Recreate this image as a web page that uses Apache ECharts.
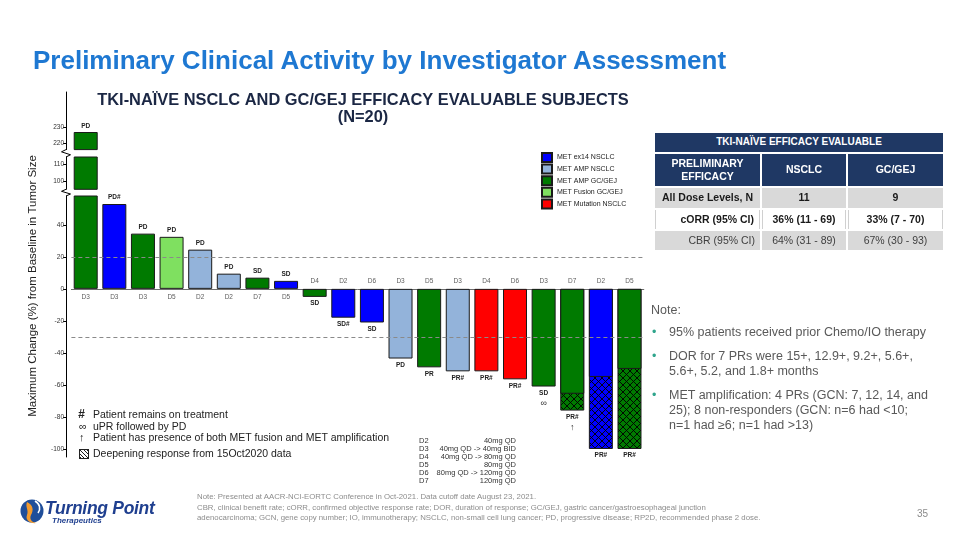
<!DOCTYPE html>
<html>
<head>
<meta charset="utf-8">
<script src="https://cdn.jsdelivr.net/npm/echarts@6.0.0/dist/echarts.min.js"></script>
<style>
html,body{margin:0;padding:0;background:#fff;}
body{width:960px;height:540px;position:relative;overflow:hidden;font-family:'Liberation Sans',Arial,Helvetica,sans-serif;}
#chart{position:absolute;left:0;top:0;width:960px;height:540px;}
.abs{position:absolute;white-space:nowrap;}
.cell{position:absolute;box-sizing:border-box;display:flex;align-items:center;justify-content:center;text-align:center;line-height:1.25;}
</style>
</head>
<body>
<div id="chart"></div>
<div id="overlay"></div>
<script>
// ---------------- data ----------------
const doseLevels = ['D3','D3','D3','D5','D2','D2','D7','D5','D4','D2','D6','D3','D5','D3','D4','D6','D3','D7','D2','D5'];
const tumorTypes = ['MET AMP GC/GEJ','MET ex14 NSCLC','MET AMP GC/GEJ','MET Fusion GC/GEJ','MET AMP NSCLC',
  'MET AMP NSCLC','MET AMP GC/GEJ','MET ex14 NSCLC','MET AMP GC/GEJ','MET ex14 NSCLC',
  'MET ex14 NSCLC','MET AMP NSCLC','MET AMP GC/GEJ','MET AMP NSCLC','MET Mutation NSCLC',
  'MET Mutation NSCLC','MET AMP GC/GEJ','MET AMP GC/GEJ','MET ex14 NSCLC','MET AMP GC/GEJ'];
const maxChange = [227, 53, 34.5, 32.5, 24.5, 9.5, 7, 5, -5, -18, -21, -43.5, -49, -51.5, -51.5, -56.5, -61, -76, -100, -100];
const maxChangeOct2020 = [null,null,null,null,null,null,null,null,null,null,null,null,null,null,null,null,null,-65.5,-55,-50];
const responses = ['PD','PD#','PD','PD','PD','PD','SD','SD','SD','SD#','SD','PD','PR','PR#','PR#','PR#','SD','PR#','PR#','PR#'];
const footMarks = ['','','','','','','','','','','','','','','','','∞','↑','',''];
const legendOrder = ['MET ex14 NSCLC','MET AMP NSCLC','MET AMP GC/GEJ','MET Fusion GC/GEJ','MET Mutation NSCLC'];
const yTicksUpper = [220, 230];
const yTicksMiddle = [100, 110];
const yTicksLower = [-100, -80, -60, -40, -20, 0, 20, 40];
const refLines = [20, -30];

const doseNames = ['D2','D3','D4','D5','D6','D7'];
const doseRegimens = ['40mg QD','40mg QD -> 40mg BID','40mg QD -> 80mg QD','80mg QD','80mg QD -> 120mg QD','120mg QD'];

const footLegend = [
  ['#', 'Patient remains on treatment'],
  ['∞', 'uPR followed by PD'],
  ['↑', 'Patient has presence of both MET fusion and MET amplification'],
  ['', 'Deepening response from 15Oct2020 data']
];

const tableTitle = 'TKI-NAÏVE EFFICACY EVALUABLE';
const tableHeader = ['PRELIMINARY<br>EFFICACY', 'NSCLC', 'GC/GEJ'];
const tableRows = [
  ['All Dose Levels, N', '11', '9'],
  ['cORR (95% CI)', '36% (11 - 69)', '33% (7 - 70)'],
  ['CBR (95% CI)', '64% (31 - 89)', '67% (30 - 93)']
];
const notes = [
  ['95% patients received prior Chemo/IO therapy'],
  ['DOR for 7 PRs were 15+, 12.9+, 9.2+, 5.6+,', '5.6+, 5.2, and 1.8+ months'],
  ['MET amplification: 4 PRs (GCN: 7, 12, 14, and', '25); 8 non-responders (GCN: n=6 had <10;', 'n=1 had ≥6; n=1 had >13)']
];
const footer = [
  'Note: Presented at AACR-NCI-EORTC Conference in Oct-2021. Data cutoff date August 23, 2021.',
  'CBR, clinical benefit rate; cORR, confirmed objective response rate; DOR, duration of response; GC/GEJ, gastric cancer/gastroesophageal junction',
  'adenocarcinoma; GCN, gene copy number; IO, immunotherapy; NSCLC, non-small cell lung cancer; PD, progressive disease; RP2D, recommended phase 2 dose.'
];

// ---------------- style ----------------
const FONT = "'Liberation Sans', Arial, sans-serif";
const typeColors = {
  'MET ex14 NSCLC': '#0000FF',
  'MET AMP NSCLC': '#93B3DA',
  'MET AMP GC/GEJ': '#007A00',
  'MET Fusion GC/GEJ': '#7FE060',
  'MET Mutation NSCLC': '#FF0000'
};
const BORDER = '#1a1a1a';
const GL = 71.4, GW = 572.4;
const axisRanges = [[216, 252], [95, 114], [-105, 58]];
const gridTops = [[92, 57.6], [157, 32.3], [196, 261]];

function hatch(color) {
  const s = 7;
  const c = document.createElement('canvas');
  c.width = s; c.height = s;
  const ctx = c.getContext('2d');
  ctx.fillStyle = color; ctx.fillRect(0, 0, s, s);
  ctx.strokeStyle = 'rgba(0,0,0,0.9)'; ctx.lineWidth = 1;
  ctx.beginPath();
  ctx.moveTo(-1, -1); ctx.lineTo(s + 1, s + 1);
  ctx.moveTo(s + 1, -1); ctx.lineTo(-1, s + 1);
  ctx.stroke();
  return { image: c, repeat: 'repeat' };
}

const chart = echarts.init(document.getElementById('chart'));

const grids = gridTops.map(g => ({ left: GL, width: GW, top: g[0], height: g[1] }));
const xAxes = [0, 1, 2].map(g => ({
  type: 'category', gridIndex: g, data: doseLevels, show: g === 2,
  axisLine: { onZero: true, lineStyle: { color: '#6e6e6e', width: 1 } },
  axisTick: { show: false }, axisLabel: { show: false }, splitLine: { show: false }
}));
const tickSets = [yTicksUpper, yTicksMiddle, yTicksLower];
const yAxes = [0, 1, 2].map(g => ({
  type: 'value', gridIndex: g, min: axisRanges[g][0], max: axisRanges[g][1], offset: 5.4,
  axisLine: { show: true, lineStyle: { color: '#000', width: 1 } },
  axisTick: { show: true, length: 3, customValues: tickSets[g], lineStyle: { color: '#000' } },
  axisLabel: { customValues: tickSets[g], fontSize: 6.5, color: '#333', margin: 2, fontFamily: FONT },
  splitLine: { show: false }
}));

const labelRich = { m: { fontSize: 9, lineHeight: 12, color: '#333', fontWeight: 'normal' } };
function respLabel(i) {
  return responses[i] + (footMarks[i] ? '\n{m|' + footMarks[i] + '}' : '');
}

const series = [];
// upper two broken segments
[0, 1].forEach(g => {
  series.push({
    type: 'bar', name: 'segment' + g, xAxisIndex: g, yAxisIndex: g, barWidth: 24,
    itemStyle: { borderColor: BORDER, borderWidth: 1 },
    data: maxChange.map((v, i) => ({
      value: v,
      itemStyle: { color: typeColors[tumorTypes[i]] },
      label: { show: g === 0 && v >= axisRanges[0][0] && v <= axisRanges[0][1] }
    })),
    label: { position: 'top', distance: 2, fontSize: 6.5, fontWeight: 'bold', color: '#222', fontFamily: FONT,
      formatter: p => respLabel(p.dataIndex) }
  });
});
// main lower segment, one series per tumor type
legendOrder.forEach((t, k) => {
  series.push({
    type: 'bar', name: t, xAxisIndex: 2, yAxisIndex: 2, barWidth: 24, barGap: '-100%',
    itemStyle: { color: typeColors[t], borderColor: BORDER, borderWidth: 1 },
    label: { fontSize: 6.5, fontWeight: 'bold', color: '#222', distance: 2, lineHeight: 9, fontFamily: FONT,
      rich: labelRich, formatter: p => respLabel(p.dataIndex) },
    data: maxChange.map((v, i) => tumorTypes[i] !== t ? '-' : {
      value: v,
      itemStyle: maxChangeOct2020[i] != null ? { color: hatch(typeColors[t]) } : {},
      label: { show: v <= axisRanges[2][1], position: v >= 0 ? 'top' : 'bottom' }
    }),
    markLine: k === 0 ? {
      silent: true, symbol: 'none', label: { show: false },
      lineStyle: { color: '#8a8a8a', type: [4, 3], width: 1 },
      data: refLines.map(y => ({ yAxis: y }))
    } : undefined
  });
});
// solid portion = best response at 15Oct2020 (overlay on hatched bars)
series.push({
  type: 'bar', name: 'Oct2020', xAxisIndex: 2, yAxisIndex: 2, barWidth: 24, barGap: '-100%',
  itemStyle: { borderColor: BORDER, borderWidth: 1 },
  data: maxChangeOct2020.map((v, i) => v == null ? '-' : { value: v, itemStyle: { color: typeColors[tumorTypes[i]] } })
});
// dose-level labels next to the zero line
series.push({
  type: 'scatter', name: 'dose', xAxisIndex: 2, yAxisIndex: 2, symbolSize: 1, silent: true,
  itemStyle: { color: 'rgba(0,0,0,0)' },
  label: { show: true, fontSize: 6.5, color: '#333', distance: 4, fontFamily: FONT, formatter: p => doseLevels[p.dataIndex] },
  data: doseLevels.map((d, i) => ({ value: [i, 0], label: { position: maxChange[i] >= 0 ? 'bottom' : 'top' } }))
});

const zig = (y0, y1) => ({
  type: 'polyline', silent: true,
  shape: { points: [[66, y0], [61.5, y0 + (y1 - y0) * 0.3], [70.5, y0 + (y1 - y0) * 0.7], [66, y1]] },
  style: { stroke: '#000', lineWidth: 1, fill: null }
});

chart.setOption({
  animation: false,
  textStyle: { fontFamily: FONT },
  grid: grids, xAxis: xAxes, yAxis: yAxes, series,
  legend: {
    data: legendOrder, orient: 'vertical', left: 541, top: 152, padding: 0,
    itemWidth: 10, itemHeight: 9, itemGap: 0.6, icon: 'rect', selectedMode: false,
    textStyle: { fontSize: 7, color: '#222', fontFamily: FONT }
  },
  graphic: [
    { type: 'text', x: 363, y: 100, silent: true,
      style: { text: 'TKI-NAÏVE NSCLC AND GC/GEJ EFFICACY EVALUABLE SUBJECTS', textAlign: 'center', textVerticalAlign: 'middle',
        font: 'bold 16.4px ' + FONT, fill: '#1B2744' } },
    { type: 'text', x: 363, y: 117.5, silent: true,
      style: { text: '(N=20)', textAlign: 'center', textVerticalAlign: 'middle', font: 'bold 16.4px ' + FONT, fill: '#1B2744' } },
    { type: 'text', x: 33, y: 286, rotation: Math.PI / 2, silent: true,
      style: { text: 'Maximum Change (%) from Baseline in Tumor Size', textAlign: 'center', textVerticalAlign: 'middle',
        font: '11.5px ' + FONT, fill: '#222' } },
    zig(149.6, 157), zig(189.3, 196)
  ]
});

// ---------------- overlay (slide text, table, notes) ----------------
const ov = document.getElementById('overlay');
function add(html, css, cls) {
  const d = document.createElement('div');
  d.className = cls || 'abs';
  d.style.cssText = css;
  d.innerHTML = html;
  ov.appendChild(d);
  return d;
}
// main title
add('Preliminary Clinical Activity by Investigator Assessment',
  'left:33px;top:45px;font-size:26px;font-weight:bold;color:#1E78D2;line-height:30px;');

// footnote legend bottom-left
const flY = [414, 425.5, 437, 453];
footLegend.forEach((r, i) => {
  if (r[0]) add(r[0], `left:${i === 0 ? 78 : 79}px;top:${flY[i] - 7}px;line-height:14px;font-size:${i === 0 ? 12 : 11}px;${i === 0 ? 'font-weight:bold;font-style:italic;' : ''}color:#222;`);
  else add('', `left:79px;top:${flY[i] - 4.5}px;width:8px;height:8px;border:1px solid #222;background:repeating-linear-gradient(45deg,#222 0 0.8px,#fff 0.8px 2.6px),#fff;`);
  add(r[1], `left:93px;top:${flY[i] - 7}px;line-height:14px;font-size:10.5px;color:#222;`);
});
// dose table
doseNames.forEach((d, i) => {
  const y = 441 + 8 * i;
  add(d, `left:419px;top:${y - 5}px;line-height:10px;font-size:7.5px;color:#333;`);
  add(doseRegimens[i], `right:${960 - 516}px;top:${y - 5}px;line-height:10px;font-size:7.5px;color:#333;`);
});

// efficacy table
const colX = [655, 762, 848], colW = [105, 84, 95];
add(tableTitle, 'left:655px;top:133px;width:288px;height:19px;background:#1F3864;color:#fff;font-weight:bold;font-size:10px;', 'cell');
tableHeader.forEach((h, c) => add(h, `left:${colX[c]}px;top:154px;width:${colW[c]}px;height:32px;background:#1F3864;color:#fff;font-weight:bold;font-size:10.5px;`, 'cell'));
const rowY = [188, 210, 231], rowH = [20, 19, 19];
const rowBg = ['#D9D9D9', '#FFFFFF', '#D9D9D9'];
const rowWeight = ['bold', 'bold', 'normal'];
const rowColor = ['#1a1a1a', '#1a1a1a', '#404040'];
tableRows.forEach((row, r) => {
  row.forEach((txt, c) => {
    const just = (c === 0 && r > 0) ? 'justify-content:flex-end;padding-right:5px;' : '';
    const brd = r === 1 ? 'border-left:1px solid #d0d0d0;border-right:1px solid #d0d0d0;' : '';
    add(txt, `left:${colX[c]}px;top:${rowY[r]}px;width:${colW[c]}px;height:${rowH[r]}px;background:${rowBg[r]};color:${rowColor[r]};font-weight:${rowWeight[r]};font-size:10.5px;${just}${brd}`, 'cell');
  });
});

// notes
add('Note:', 'left:651px;top:302px;font-size:12.5px;line-height:16px;color:#595959;');
const noteTops = [324.5, 348.5, 387.5];
notes.forEach((lines, k) => {
  add('•', `left:652px;top:${noteTops[k]}px;font-size:12.5px;line-height:15px;color:#2FA58C;`);
  add(lines.join('<br>'), `left:669px;top:${noteTops[k]}px;font-size:12.5px;line-height:15px;color:#595959;`);
});

// footer
add(footer.join('<br>'), 'left:197px;top:492px;font-size:7.8px;line-height:10.5px;color:#8c8c8c;');
add('35', 'left:917px;top:508px;font-size:10px;line-height:12px;color:#8c8c8c;');

// logo
add('<svg width="28" height="30" viewBox="0 0 28 30"><circle cx="13" cy="15" r="11.5" fill="#1F4E9A"/><path d="M8 6 C14 9 15 14 12 19 C10 23 13 27 18 27 C11 28 6 24 8 19 C10 14 6 11 8 6 Z" fill="#F29A2E"/><path d="M16 5 C21 8 22 13 19 17" stroke="#fff" stroke-width="1.6" fill="none"/></svg>',
  'left:19px;top:496px;');
add('Turning Point', 'left:45px;top:498px;font-size:17.5px;line-height:20px;font-weight:bold;font-style:italic;color:#1F3F8F;letter-spacing:-0.3px;');
add('Therapeutics', 'left:52px;top:516px;font-size:8px;line-height:10px;font-weight:bold;font-style:italic;color:#1F3F8F;');
</script>
</body>
</html>
